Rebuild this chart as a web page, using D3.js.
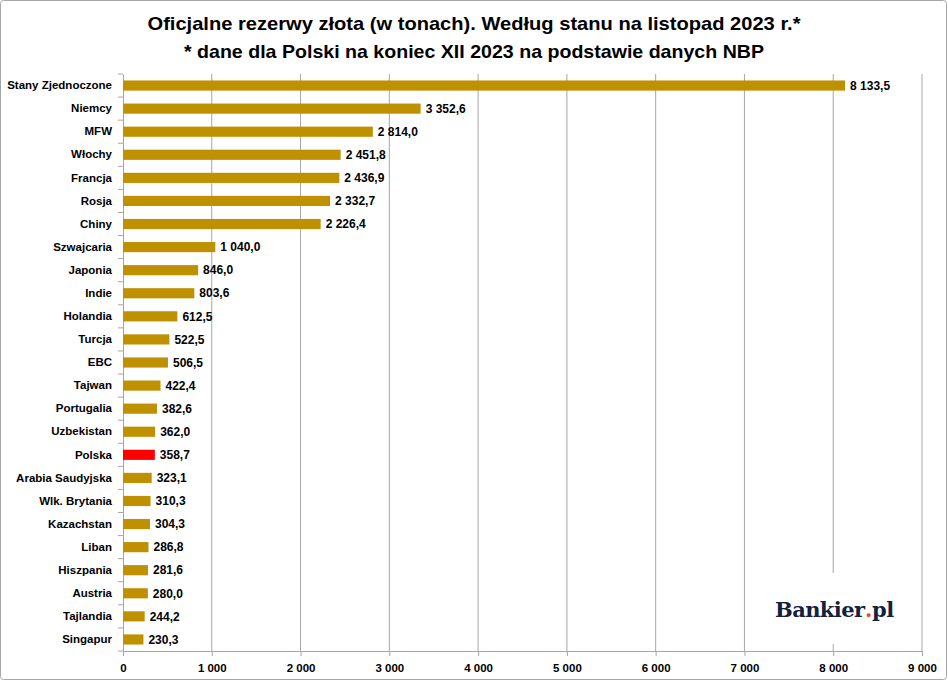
<!DOCTYPE html>
<html>
<head>
<meta charset="utf-8">
<script src="https://cdn.jsdelivr.net/npm/d3@7"></script>
<style>
  html, body { margin: 0; padding: 0; background: #fff; }
  svg { display: block; font-family: "Liberation Sans", Arial, sans-serif; }
</style>
</head>
<body>
<script>
// gold reserves in tonnes, Nov 2023 (Poland: end of Dec 2023)
const countries = [
  "Stany Zjednoczone", "Niemcy", "MFW", "Włochy", "Francja", "Rosja", "Chiny",
  "Szwajcaria", "Japonia", "Indie", "Holandia", "Turcja", "EBC", "Tajwan",
  "Portugalia", "Uzbekistan", "Polska", "Arabia Saudyjska", "Wlk. Brytania",
  "Kazachstan", "Liban", "Hiszpania", "Austria", "Tajlandia", "Singapur"
];
const tonnes = [
  8133.5, 3352.6, 2814.0, 2451.8, 2436.9, 2332.7, 2226.4,
  1040.0, 846.0, 803.6, 612.5, 522.5, 506.5, 422.4,
  382.6, 362.0, 358.7, 323.1, 310.3,
  304.3, 286.8, 281.6, 280.0, 244.2, 230.3
];
const xTicks = [0, 1000, 2000, 3000, 4000, 5000, 6000, 7000, 8000, 9000];
const titleLines = [
  "Oficjalne rezerwy złota (w tonach). Według stanu na listopad 2023 r.*",
  "* dane dla Polski na koniec XII 2023 na podstawie danych NBP"
];
const logoParts = ["Bankier", ".", "pl"];

const data = countries.map((c, i) => ({ name: c, value: tonnes[i] }));

const width = 948, height = 681;
const margin = { top: 74, right: 26, bottom: 30, left: 123 };

const fmt = (v, dec) => {
  // polish style: space thousands, comma decimal
  const s = d3.format(dec ? ",.1f" : ",.0f")(v);
  return s.replace(/,/g, " ").replace(".", ",");
};

const svg = d3.select("body").append("svg")
  .attr("width", width)
  .attr("height", height);

// outer frame
svg.append("rect")
  .attr("x", 0.5).attr("y", 0.5)
  .attr("width", width - 2).attr("height", height - 2)
  .attr("rx", 3)
  .attr("fill", "#fff")
  .attr("stroke", "#a6a6a6");

const x = d3.scaleLinear()
  .domain([0, 9000])
  .range([margin.left, width - margin.right]);

const y = d3.scaleBand()
  .domain(countries)
  .range([margin.top, height - margin.bottom])
  .paddingInner(0.56)
  .paddingOuter(0.28);

// title
svg.append("g")
  .selectAll("text")
  .data(titleLines)
  .join("text")
  .attr("x", width / 2)
  .attr("y", (d, i) => 30 + i * 28)
  .attr("text-anchor", "middle")
  .attr("font-size", 19)
  .attr("font-weight", "bold")
  .attr("fill", "#000")
  .attr("textLength", (d, i) => i == 0 ? 653 : 580)
  .attr("lengthAdjust", "spacingAndGlyphs")
  .text(d => d);

// vertical gridlines
svg.append("g")
  .selectAll("line")
  .data(xTicks.slice(1))
  .join("line")
  .attr("x1", d => x(d)).attr("x2", d => x(d))
  .attr("y1", margin.top).attr("y2", height - margin.bottom)
  .attr("stroke", "#a6a6a6")
  .attr("stroke-width", 1);

// x axis
const xAxis = svg.append("g")
  .attr("transform", `translate(0,${height - margin.bottom})`)
  .call(d3.axisBottom(x).tickValues(xTicks).tickSize(5).tickSizeOuter(0).tickFormat(d => fmt(d, false)));
xAxis.select(".domain").attr("stroke", "#a6a6a6");
xAxis.selectAll(".tick line").attr("stroke", "#a6a6a6");
xAxis.selectAll(".tick text")
  .attr("dy", "1.1em")
  .attr("font-size", 11.5)
  .attr("font-weight", "bold")
  .attr("fill", "#000")
  .attr("font-family", "'Liberation Sans Narrow', 'Liberation Sans', Arial, sans-serif");

// y axis: category labels, tick marks between categories
const yAxis = svg.append("g")
  .attr("transform", `translate(${margin.left},0)`)
  .call(d3.axisLeft(y).tickSize(0).tickPadding(11));
yAxis.select(".domain").attr("stroke", "#a6a6a6");
yAxis.selectAll(".tick text")
  .attr("font-size", 11.5)
  .attr("font-weight", "bold")
  .attr("fill", "#000");

const rowH = (height - margin.bottom - margin.top) / countries.length;
svg.append("g")
  .selectAll("line")
  .data(d3.range(countries.length + 1))
  .join("line")
  .attr("x1", margin.left - 5).attr("x2", margin.left)
  .attr("y1", i => margin.top + i * rowH)
  .attr("y2", i => margin.top + i * rowH)
  .attr("stroke", "#a6a6a6");

// bars
svg.append("g")
  .selectAll("rect")
  .data(data)
  .join("rect")
  .attr("x", x(0))
  .attr("y", d => y(d.name))
  .attr("width", d => x(d.value) - x(0))
  .attr("height", y.bandwidth())
  .attr("fill", d => d.name == "Polska" ? "#ff0000" : "#bf9000");

// value labels
svg.append("g")
  .selectAll("text")
  .data(data)
  .join("text")
  .attr("x", d => x(d.value) + 5)
  .attr("y", d => y(d.name) + y.bandwidth() / 2)
  .attr("dy", "0.35em")
  .attr("font-size", 12)
  .attr("font-weight", "bold")
  .attr("fill", "#000")
  .text(d => fmt(d.value, true));

// logo box (covers gridline like in the original)
const logo = svg.append("g");
logo.append("rect")
  .attr("x", 746).attr("y", 573)
  .attr("width", 172).attr("height", 71)
  .attr("fill", "#fff");
let lx = 775;
logoParts.forEach((p, i) => {
  const t = logo.append("text")
    .attr("x", lx).attr("y", 617)
    .attr("font-family", "'DejaVu Serif', 'Liberation Serif', serif")
    .attr("font-weight", "bold")
    .attr("font-size", 21)
    .attr("letter-spacing", -0.6)
    .attr("fill", i == 1 ? "#e8491d" : "#13213f")
    .text(p);
  lx += t.node().getComputedTextLength() + 0.5;
});
</script>
</body>
</html>
